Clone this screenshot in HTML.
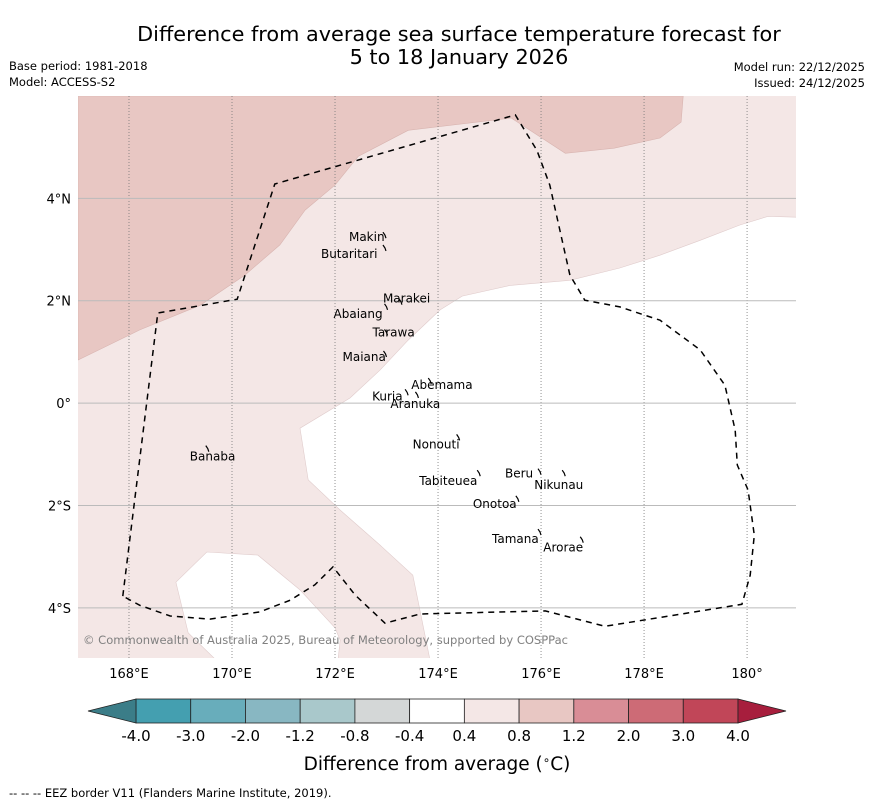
<!DOCTYPE html>
<html><head><meta charset="utf-8"><style>
body{margin:0;background:#fff;width:873px;height:804px;overflow:hidden;font-family:"DejaVu Sans","Liberation Sans",sans-serif}
svg text{font-family:"DejaVu Sans","Liberation Sans",sans-serif}
</style></head><body>
<svg id="c" width="873" height="804" xmlns="http://www.w3.org/2000/svg">
<text x="459" y="41" font-size="20.8" text-anchor="middle">Difference from average sea surface temperature forecast for</text>
<text x="459" y="64" font-size="20.8" text-anchor="middle">5 to 18 January 2026</text>
<text x="9" y="70" font-size="11.5">Base period: 1981-2018</text>
<text x="9" y="86" font-size="11.5">Model: ACCESS-S2</text>
<text x="865" y="71" font-size="11.5" text-anchor="end">Model run: 22/12/2025</text>
<text x="865" y="87" font-size="11.5" text-anchor="end">Issued: 24/12/2025</text>
<g id="map"></g>
<g id="cbar"></g>
<text x="437" y="770" font-size="18.5" text-anchor="middle">Difference from average (<tspan font-size="12" dy="-6">∘</tspan><tspan dy="6">C)</tspan></text>
<text x="9" y="797" font-size="11.5">--  --  -- EEZ border V11 (Flanders Marine Institute, 2019).</text>
</svg>
<script>
const lonTicks=[168,170,172,174,176,178,180];
const lonLabels=["168°E","170°E","172°E","174°E","176°E","178°E","180°"];
const latTicks=[4,2,0,-2,-4];
const latLabels=["4°N","2°N","0°","2°S","4°S"];
const band08=[[167.01,6],[178.76,6],[178.72,5.49],[178.31,5.18],[177.42,4.98],[176.47,4.88],[175.42,5.57],[173.42,5.33],[172.45,4.82],[172.0,4.26],[171.42,3.77],[170.93,3.09],[170.25,2.5],[169.38,1.91],[168.21,1.43],[167.01,0.84]];
const whiteMain=[[181,3.63],[180.41,3.65],[179.86,3.48],[179.09,3.18],[178.31,2.89],[177.53,2.64],[176.56,2.40],[175.40,2.30],[174.47,2.09],[174.04,1.82],[173.42,1.23],[172.87,0.64],[172.29,0.10],[171.32,-0.49],[171.48,-1.50],[172.10,-2.09],[172.87,-2.77],[173.51,-3.36],[173.61,-3.85],[173.84,-5],[181,-5]];
const whiteSW=[[168.91,-3.50],[169.51,-2.91],[170.50,-2.97],[171.32,-3.65],[172.0,-4.39],[172.10,-4.63],[172.06,-5],[169.67,-5],[169.15,-4.49]];
const eez=[[167.88,-3.77],[168.56,1.76],[170.10,2.03],[170.83,4.28],[175.50,5.63],[175.92,4.94],[176.17,4.26],[176.56,2.50],[176.85,2.01],[177.53,1.88],[178.31,1.62],[179.09,1.04],[179.57,0.35],[179.77,-0.53],[179.81,-1.21],[180.02,-1.70],[180.14,-2.58],[180.06,-3.36],[179.90,-3.93],[177.24,-4.36],[176.08,-4.06],[173.65,-4.12],[172.97,-4.30],[172.39,-3.75],[171.96,-3.20],[171.61,-3.55],[171.13,-3.85],[170.54,-4.08],[169.57,-4.22],[168.80,-4.16],[168.21,-3.95],[167.88,-3.77]];
const islandNames=["Makin","Butaritari","Marakei","Abaiang","Tarawa","Maiana","Abemama","Kuria","Aranuka","Banaba","Nonouti","Beru","Nikunau","Tabiteuea","Onotoa","Tamana","Arorae"];
const islandLon=[172.97,172.97,173.28,173.0,173.0,172.98,173.85,173.4,173.6,169.53,174.4,175.98,176.45,174.8,175.55,175.98,176.8];
const islandLat=[3.3,3.05,2.0,1.9,1.4,0.98,0.45,0.23,0.18,-0.87,-0.65,-1.32,-1.35,-1.35,-1.85,-2.5,-2.65];
const labelDx=[-36,-64,-18,-53,-14,-43,-19,-35,-27,-18,-46,-35,-30,-60,-45,-48,-39];
const labelDy=[7,11,2,12,5,8,9,9,14,13,12,7,17,13,10,12,13];
const cbLevels=["-4.0","-3.0","-2.0","-1.2","-0.8","-0.4","0.4","0.8","1.2","2.0","3.0","4.0"];
const cbColors=["#449fb0","#68adbb","#88b7c2","#a9c8cb","#d4d7d7","#ffffff","#f4e7e6","#e8c7c3","#d98d96","#cd6b76","#c14658"];
const cbUnder="#3b7d88", cbOver="#a71e3d";

const X0=78,X1=796,Y0=96,Y1=658;
const lonMin=167.01,lonMax=180.95,latMin=-4.98,latMax=6.0;
const sx=l=>X0+(l-lonMin)/(lonMax-lonMin)*(X1-X0);
const sy=l=>Y0+(latMax-l)/(latMax-latMin)*(Y1-Y0);
const NS="http://www.w3.org/2000/svg";
function mk(t,a,p){const e=document.createElementNS(NS,t);for(const k in a)e.setAttribute(k,a[k]);p.appendChild(e);return e;}
const map=document.getElementById('map');
const cpth=mk('clipPath',{id:'clip'},map);
mk('rect',{x:X0,y:Y0,width:X1-X0,height:Y1-Y0},cpth);
const bg=mk('rect',{x:X0,y:Y0,width:X1-X0,height:Y1-Y0,fill:cbColors[6]},map);


const pts=a=>a.map(p=>sx(p[0]).toFixed(1)+','+sy(p[1]).toFixed(1)).join(' ');
const g=mk('g',{'clip-path':'url(#clip)'},map);
const p1=mk('polygon',{points:pts(band08),fill:cbColors[7],stroke:'#d8b4b0','stroke-width':0.6},g);


const p2=mk('polygon',{points:pts(whiteMain),fill:'#fff',stroke:'#e0cccc','stroke-width':0.6},g);


const p3=mk('polygon',{points:pts(whiteSW),fill:'#fff',stroke:'#e0cccc','stroke-width':0.6},g);


lonTicks.forEach((l,i)=>{
  const ln=mk('line',{x1:sx(l),x2:sx(l),y1:Y0,y2:Y1,stroke:'#777','stroke-width':0.8,'stroke-dasharray':'1,2'},g);
  
  
  const t=mk('text',{x:sx(l),y:678,'font-size':13,'text-anchor':'middle'},map);t.textContent=lonLabels[i];
  
  
});
latTicks.forEach((l,i)=>{
  const ln=mk('line',{x1:X0,x2:X1,y1:sy(l),y2:sy(l),stroke:'#bbb','stroke-width':1},g);
  
  
  const t=mk('text',{x:71,y:sy(l)+5,'font-size':13,'text-anchor':'end'},map);t.textContent=latLabels[i];
  
  
});
const ez=mk('polyline',{points:pts(eez),fill:'none',stroke:'#000','stroke-width':1.5,'stroke-dasharray':'6,5'},g);


islandNames.forEach((n,i)=>{
  const x=sx(islandLon[i]),y=sy(islandLat[i]);
  const s=mk('path',{d:`M${x-2},${y-2} l2,3 l1,3`,fill:'none',stroke:'#000','stroke-width':1.2},map);
  
  
  const t=mk('text',{x:x+labelDx[i],y:y+labelDy[i],'font-size':12},map);t.textContent=n;
  
  
});
const cp=mk('text',{x:83,y:644,'font-size':11.6,fill:'#808080',textLength:485,lengthAdjust:'spacingAndGlyphs'},map);cp.textContent="© Commonwealth of Australia 2025, Bureau of Meteorology, supported by COSPPac";



const cb=document.getElementById('cbar');
const CX0=136,CX1=738,CY=699,CH=24,n=cbColors.length,w=(CX1-CX0)/n;
cbColors.forEach((c,i)=>{
  const r=mk('rect',{x:CX0+i*w,y:CY,width:w,height:CH,fill:c,stroke:'#222','stroke-width':0.8},cb);
  
  
});
const tl=mk('polygon',{points:`${CX0},${CY} ${CX0},${CY+CH} 88,${CY+CH/2}`,fill:cbUnder,stroke:'#222','stroke-width':0.8},cb);


const tr=mk('polygon',{points:`${CX1},${CY} ${CX1},${CY+CH} 786,${CY+CH/2}`,fill:cbOver,stroke:'#222','stroke-width':0.8},cb);


cbLevels.forEach((l,i)=>{
  const t=mk('text',{x:CX0+i*w,y:741,'font-size':15,'text-anchor':'middle'},cb);t.textContent=l;
  
  
});
</script>
</body></html>
